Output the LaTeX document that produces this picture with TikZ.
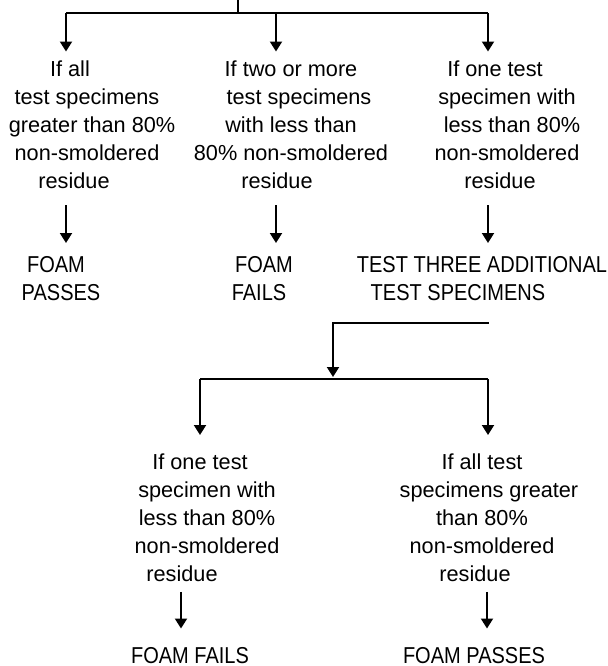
\documentclass[tikz,border=0pt]{standalone}
\usepackage{fontspec}
\setmainfont{Liberation Sans}
\newfontfamily\narrowcaps[FakeStretch=0.87]{Liberation Sans}
\usetikzlibrary{arrows.meta}
\tikzset{
  cond/.style={align=center, inner sep=0pt, font=\fontsize{10.85}{14}\selectfont},
  outcome/.style={align=center, inner sep=0pt, font=\narrowcaps\fontsize{11.5}{14.25}\selectfont},
  arr/.style={-{Triangle[length=5pt,width=6pt]}},
}
\begin{document}
\begin{tikzpicture}[x=0.5pt,y=-0.5pt,line width=1pt]
    \useasboundingbox (0,0) rectangle (608,666);
    %% first split
    \coordinate (root) at (238,0);
    \coordinate (barL) at (66,13);
    \coordinate (barM) at (276,13);
    \coordinate (barR) at (488,13);
    \node[cond, anchor=north] (ifall) at (87,59.5) {If all\hspace*{17pt}\\ test specimens\\ \hspace*{5pt}greater than 80\%\\ non-smoldered\\ residue\hspace*{13pt}};
    \node[cond, anchor=north] (iftwo) at (291,59.5) {If two or more\\ \hspace*{8pt}test specimens\\ with less than\\ 80\% non-smoldered\\ residue\hspace*{14pt}};
    \node[cond, anchor=north] (ifone) at (507,59.5) {If one test\hspace*{12pt}\\ specimen with\\ \hspace*{5pt}less than 80\%\\ non-smoldered\\ residue\hspace*{7pt}};
    \draw (root) -- (root |- barL);
    \draw (barL) -- (barR);
    \draw[arr, shorten >=4pt] (barL) -- (barL |- ifall.north);
    \draw[arr, shorten >=4pt] (barM) -- (barM |- iftwo.north);
    \draw[arr, shorten >=4pt] (barR) -- (barR |- ifone.north);
    %% outcomes of the first three
    \node[outcome, anchor=north] (pass1) at (61,255) {FOAM\hspace*{5pt}\\ PASSES};
    \node[outcome, anchor=north] (fail1) at (264,255) {FOAM\\ FAILS\hspace*{5pt}};
    \node[outcome, anchor=north] (retest) at (482,255) {TEST THREE ADDITIONAL\\ TEST SPECIMENS\hspace*{24pt}};
    \draw[arr, shorten <=8pt, shorten >=6pt] (ifall.south -| barL) -- (pass1.north -| barL);
    \draw[arr, shorten <=8pt, shorten >=6pt] (iftwo.south -| barM) -- (fail1.north -| barM);
    \draw[arr, shorten <=8pt, shorten >=6pt] (ifone.south -| barR) -- (retest.north -| barR);
    %% second split
    \coordinate (join) at (333,379);
    \coordinate (bar2L) at (200,379);
    \coordinate (bar2R) at (488,379);
    \draw[arr, shorten <=10pt, shorten >=1pt] (retest.south -| barR) -- ++(0,21) -| (join);
    \draw (bar2L) -- (bar2R);
    \node[cond, anchor=north] (ifoneB) at (207,453) {If one test\hspace*{7pt}\\ specimen with\\ less than 80\%\\ non-smoldered\\ residue\hspace*{25pt}};
    \node[cond, anchor=north] (ifallB) at (482,453) {If all test\\ \hspace*{7pt}specimens greater\\ than 80\%\\ non-smoldered\\ residue\hspace*{7pt}};
    \draw[arr, shorten >=9pt] (bar2L) -- (bar2L |- ifoneB.north);
    \draw[arr, shorten >=9pt] (bar2R) -- (bar2R |- ifallB.north);
    %% final outcomes
    \node[outcome, anchor=north] (failB) at (190,646.5) {FOAM FAILS};
    \node[outcome, anchor=north] (passB) at (474,646.5) {FOAM PASSES};
    \draw[arr, shorten <=4.5pt, shorten >=9pt] (181,0 |- ifoneB.south) -- (181,0 |- failB.north);
    \draw[arr, shorten <=4.5pt, shorten >=9pt] (487,0 |- ifallB.south) -- (487,0 |- passB.north);
\end{tikzpicture}
\end{document}
